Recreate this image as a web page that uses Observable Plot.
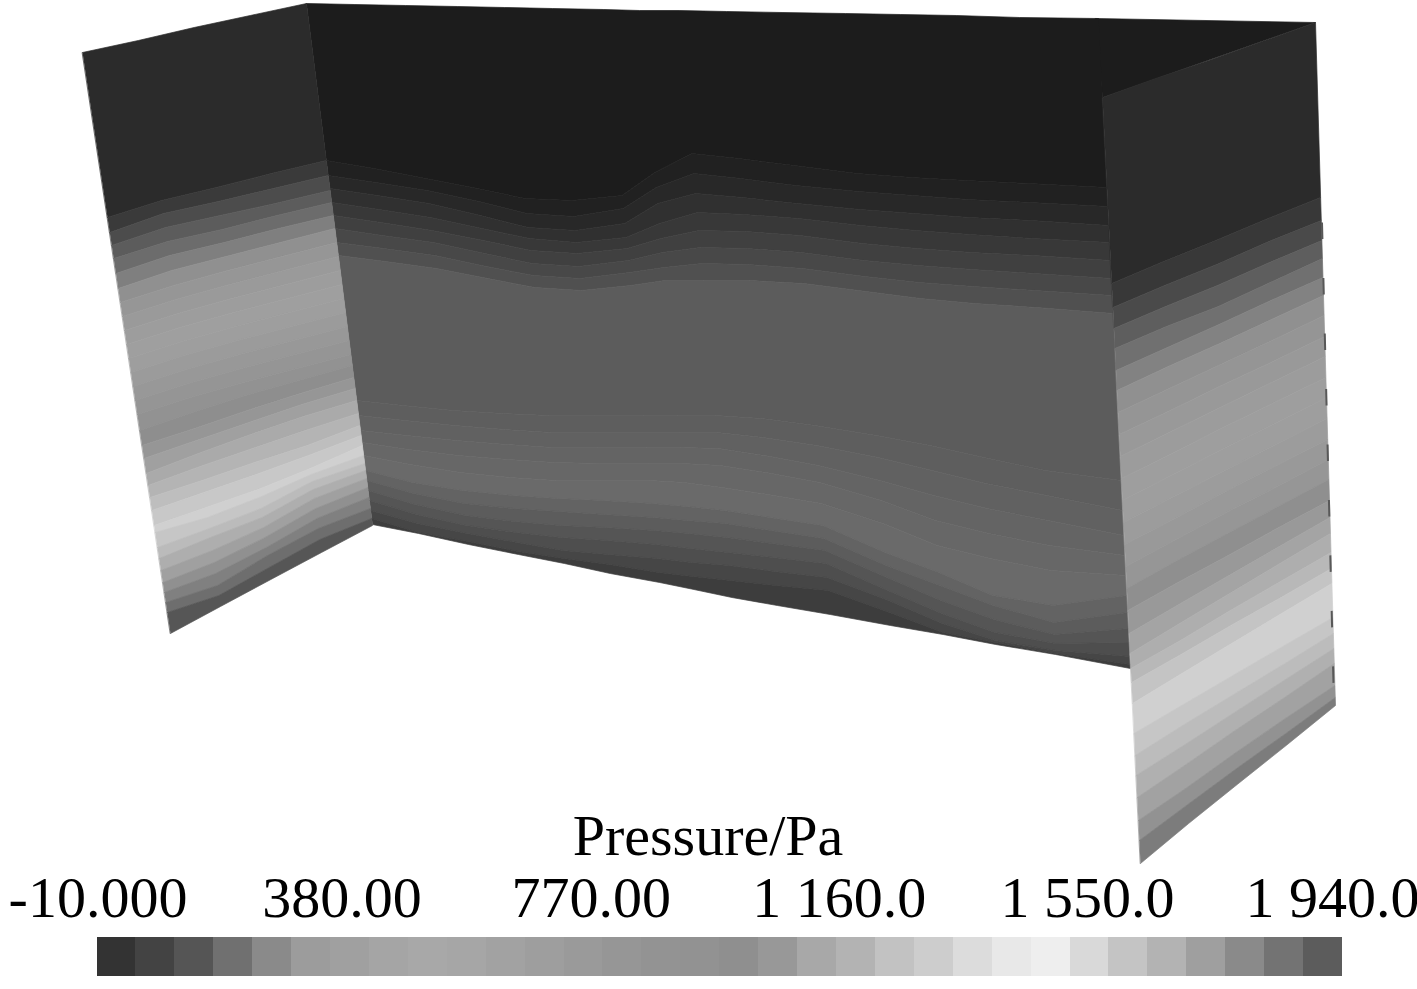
<!DOCTYPE html>
<html>
<head>
<meta charset="utf-8">
<style>html,body{margin:0;padding:0;background:#fff}svg{display:block}</style>
<script src="https://cdn.jsdelivr.net/npm/d3@7"></script>
<script src="https://cdn.jsdelivr.net/npm/@observablehq/plot@0.6"></script>
</head>
<body>
<div id="chart"></div>
<script>
// ---- wall edges: [x, y] of the top and bottom of each side
const leftEdges   = {a: [[82, 52], [170, 633]],  b: [[306, 3], [372, 525]]};
const centerEdges = {a: [[306, 3], [372, 524]],  b: [[1102, 97], [1130, 669]]};
const rightEdges  = {a: [[1102, 97], [1140, 863]], b: [[1315, 22], [1335, 705]]};

// ---- fractional stations across each wall
const leftStations   = [0, .25, .5, .75, 1];
const centerStations = [0, .06, .125, .19, .25, .31, .375, .42, .47, .53, .6, .68, .75, .82, .9, 1];
const rightStations  = [0, .25, .5, .75, 1];

// ---- contour lines: y read at each station, top edge first, bottom edge last
const leftContours = [
  [52,40,27,15,3],
  [217,200,187,173,160],[232,213,201,188,175],[245,227,215,203,190],[258,241,229,215,202],
  [273,255,242,228,215],[288,270,256,242,228],[302,285,270,256,242],[316,299,284,270,256],
  [330,313,298,284,270],[344,327,312,298,284],[358,341,326,312,298],[372,355,340,326,312],
  [386,369,354,340,326],[400,383,368,354,340],[414,397,382,368,354],[430,412,395,380,365],
  [445,428,410,393,377],[458,440,422,404,388],[473,453,434,416,400],[485,466,448,430,413],
  [497,480,462,445,425],[510,492,474,455,435],[525,507,489,468,445],[532,517,497,474,455],
  [547,528,508,481,463],[558,537,517,489,470],[570,550,527,498,478],[582,562,537,508,487],
  [592,573,547,518,497],[602,585,555,528,508],[612,595,567,539,518],
  [633,606,579,552,525]
];
const leftGrays = [0x2b,0x3a,0x4c,0x5c,0x6c,0x7f,0x90,0x96,0x9a,0x9d,0x9f,0x9e,0x9b,0x98,0x95,0x92,
  0x8e,0x96,0xa0,0xaa,0xb4,0xbe,0xc8,0xd0,0xc6,0xbb,0xae,0xa0,0x90,0x80,0x6e,0x56];

const centerContours = [
  [3,4,5,6,7,8,9,10,10,11,12,13,14,15,17,18],
  [160,168,178,188,198,200,195,172,153,158,165,173,177,180,183,187],
  [175,182,190,201,213,216,208,187,173,178,185,191,195,199,202,206],
  [188,195,203,215,227,230,223,203,193,197,203,209,213,217,220,225],
  [202,209,217,228,238,242,237,223,212,214,218,225,230,234,238,242],
  [215,222,230,240,250,253,248,238,230,231,235,243,248,252,255,260],
  [228,235,242,253,263,266,260,252,247,248,252,260,265,269,273,278],
  [242,248,255,266,275,278,272,267,263,264,268,276,282,286,290,295],
  [255,261,268,278,287,290,285,280,280,280,283,291,298,303,307,313],
  [400,405,410,413,415,415,415,415,415,418,425,435,445,457,470,480],
  [415,420,425,429,432,432,432,432,432,437,445,457,470,483,495,510],
  [430,435,440,444,447,447,447,447,448,455,465,480,495,508,520,535],
  [442,449,455,459,462,463,463,463,465,472,482,500,520,533,545,555],
  [455,464,472,477,480,480,480,482,487,494,503,523,545,558,570,575],
  [470,482,490,495,498,500,503,506,510,517,525,552,572,595,605,595],
  [480,493,503,508,511,514,517,520,523,530,538,565,585,605,622,612],
  [490,504,515,521,525,527,530,533,537,543,550,577,600,619,634,628],
  [500,514,525,532,537,540,544,548,552,557,563,590,613,632,643,642],
  [510,523,533,542,550,554,558,562,565,571,577,600,623,640,650,656],
  [518,532,541,551,558,564,572,576,580,585,590,612,632,642,653,664],
  [524,533,544,554,563,573,582,589,597,605,614,625,634,644,654,668]
];
const centerGrays = [0x1c,0x21,0x28,0x30,0x38,0x40,0x48,0x50,0x5c,0x5e,0x61,0x64,0x67,0x6a,
  0x63,0x5c,0x55,0x4e,0x46,0x3d];

const rightContours = [
  [97,78,60,41,22],
  [283,261,240,218,197],[307,285,264,241,220],[328,306,285,262,240],[348,326,306,282,258],
  [370,347,324,300,277],[390,366,343,319,295],[412,388,364,340,315],[434,410,385,361,336],
  [456,431,406,381,356],[478,453,427,402,377],[500,474,448,423,397],[522,496,470,444,418],
  [544,518,491,465,439],[566,539,512,486,459],[588,560,533,506,479],[610,582,555,527,500],
  [633,604,575,546,517],[653,623,593,563,533],[668,640,610,581,552],[682,654,625,597,568],
  [703,673,643,613,583],[733,704,675,646,617],[755,724,694,664,633],[775,744,712,680,648],
  [797,764,730,697,663],[820,787,752,718,685],[840,804,768,733,697],
  [863,823,784,745,705]
];
const rightGrays = [0x2b,0x38,0x4a,0x5e,0x70,0x82,0x90,0x95,0x99,0x9c,0x9e,0x9e,0x9c,0x99,0x96,0x8f,
  0x99,0xa4,0xae,0xb8,0xc4,0xd0,0xc6,0xbc,0xb0,0xa2,0x92,0x7c];

// part of the back wall seen above the right wall
const backCornerX = [1095, 1315, 1102];
const backCornerY = [18, 22, 97];
const backCornerGray = 0x1c;

// dark ticks along the far edge of the right wall
const edgeTickX = [1321.5, 1333];
const edgeTickY = [222, 683];

// ---- colour bar
const barGrays = [0x33,0x43,0x55,0x70,0x8a,0x9c,0xa0,0xa5,0xa8,0xa6,0xa2,0x9e,0x9a,0x96,0x93,0x92,
  0x8f,0x98,0xa8,0xb3,0xc2,0xcd,0xdc,0xe8,0xee,0xd9,0xc4,0xb3,0x9f,0x8a,0x73,0x5c];
const barMin = -10, barMax = 1940;
const tickValues = [-10, 380, 770, 1160, 1550, 1940];
const tickLabels = ["-10.000", "380.00", "770.00", "1 160.0", "1 550.0", "1 940.0"];
const tickOffsets = [1, -4, -4, -5, -6, -10];
const titleText = "Pressure/Pa";

const gray = (g) => `rgb(${g},${g},${g})`;
const edgeX = ([[x0, y0], [x1, y1]], y) => x0 + (y - y0) * (x1 - x0) / (y1 - y0);

function wallBands(name, edges, stations, contours, grays) {
  const rows = [];
  grays.forEach((g, k) => {
    const band = `${name}-${k}`;
    const upper = stations.map((u, i) => [u, contours[k][i]]);
    const lower = stations.map((u, i) => [u, contours[k + 1][i]]).reverse();
    for (const [u, y] of [...upper, ...lower]) {
      const xa = edgeX(edges.a, y), xb = edgeX(edges.b, y);
      rows.push({band, x: xa + (xb - xa) * u, y, fill: gray(g)});
    }
  });
  return rows;
}

const backCorner = backCornerX.map((x, i) => ({band: "corner", x, y: backCornerY[i], fill: gray(backCornerGray)}));
const bands = [
  ...backCorner,
  ...wallBands("center", centerEdges, centerStations, centerContours, centerGrays),
  ...wallBands("left", leftEdges, leftStations, leftContours, leftGrays),
  ...wallBands("right", rightEdges, rightStations, rightContours, rightGrays)
];
const edgeTicks = edgeTickX.map((x, i) => ({x, y: edgeTickY[i]}));

const font = {fontFamily: "'Liberation Serif', serif", fontSize: 58, fill: "#000"};

const walls = Plot.plot({
  width: 1417, height: 866,
  margin: 0,
  x: {domain: [0, 1417], range: [0, 1417], axis: null},
  y: {domain: [0, 866], range: [0, 866], axis: null},
  color: {type: "identity"},
  style: {background: "#fff"},
  marks: [
    Plot.line(bands, {x: "x", y: "y", z: "band", fill: "fill", stroke: "fill", strokeWidth: 0.7, curve: "linear-closed"}),
    Plot.line(edgeTicks, {x: "x", y: "y", stroke: "#585858", strokeWidth: 2, strokeDasharray: "16.5,39", strokeLinecap: "butt"}),
    Plot.text([titleText], {x: () => 707.5, y: () => 854, text: (d) => d, lineAnchor: "bottom", ...font})
  ]
});

const levelStep = (barMax - barMin) / barGrays.length;
const bar = Plot.plot({
  width: 1417, height: 123,
  margin: 0,
  x: {domain: [barMin, barMax], range: [96.5, 1342], axis: null},
  y: {domain: [866, 989], range: [0, 123], axis: null},
  color: {type: "identity"},
  style: {background: "#fff", overflow: "visible"},
  marks: [
    Plot.rect(barGrays, {
      x1: (d, i) => barMin + i * levelStep,
      x2: (d, i) => barMin + (i + 1) * levelStep,
      y1: () => 937, y2: () => 976,
      fill: (d) => gray(d),
      shapeRendering: "crispEdges"
    }),
    ...tickLabels.map((label, i) =>
      Plot.text([label], {x: () => tickValues[i], y: () => 916, text: (d) => d, dx: tickOffsets[i], lineAnchor: "bottom", ...font}))
  ]
});

document.getElementById("chart").append(walls, bar);
</script>
</body>
</html>
